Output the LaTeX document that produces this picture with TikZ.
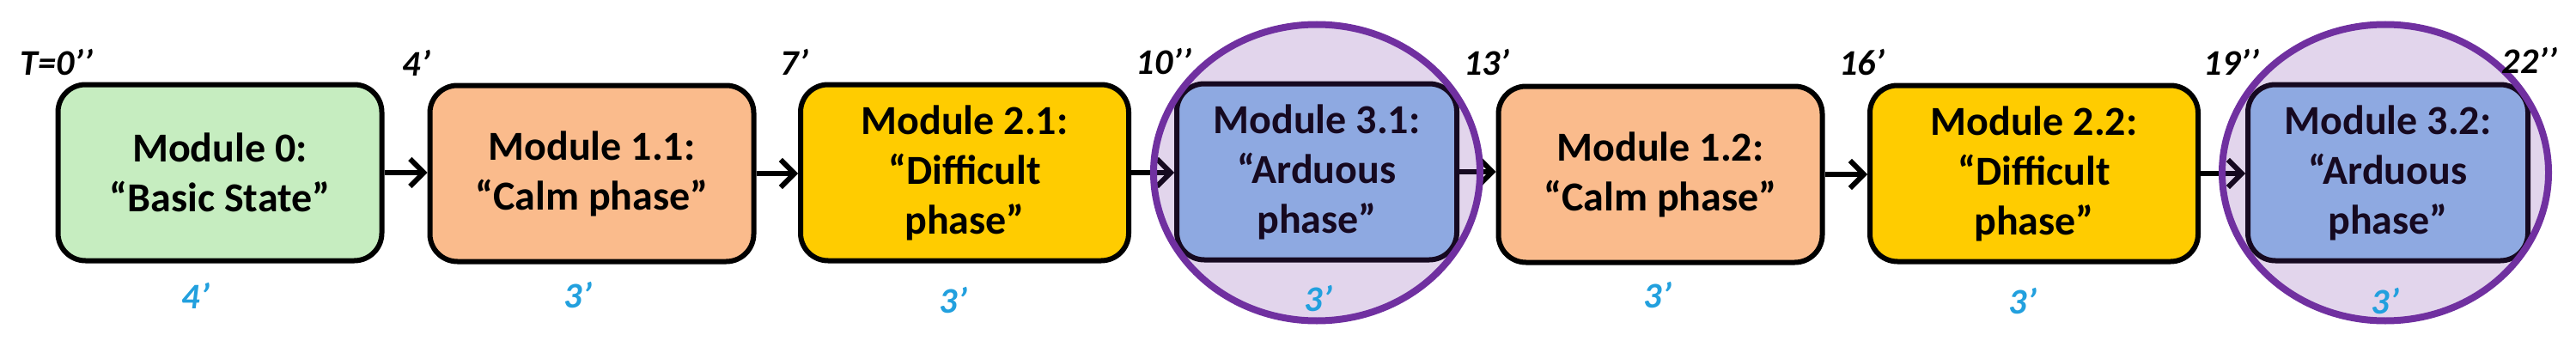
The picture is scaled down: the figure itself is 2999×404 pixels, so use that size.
\documentclass[tikz,border=0pt]{standalone}
\usepackage{fontspec}
\setmainfont{Carlito}
\usetikzlibrary{arrows.meta,shapes.geometric}
\definecolor{cgreen}{RGB}{198,237,192}
\definecolor{corange}{RGB}{250,187,140}
\definecolor{cyellow}{RGB}{255,204,0}
\definecolor{cblue}{RGB}{150,200,242}
\definecolor{cpurple}{RGB}{112,48,160}
\definecolor{cdur}{RGB}{34,160,222}
\tikzset{
  modbox/.style={draw=black, line width=6pt, rounded corners=32pt, align=center,
    minimum width=377pt, minimum height=205pt, inner sep=0pt,
    font=\fontsize{48}{58}\selectfont\bfseries},
  narrowbox/.style={modbox, minimum width=326pt},
  timelbl/.style={font=\fontsize{42}{42}\selectfont\bfseries\itshape, inner sep=0pt},
  durlbl/.style={font=\fontsize{42}{42}\selectfont\bfseries\itshape, text=cdur, inner sep=0pt},
  arr/.style={line width=6pt, -{Straight Barb[length=16pt,width=32pt,line width=6pt]}},
  ring/.style={ellipse, draw=cpurple, line width=8pt, fill=cpurple, fill opacity=0.2, draw opacity=1, inner sep=0pt}
}
\begin{document}
\begin{tikzpicture}[x=1pt,y=-1pt]
\useasboundingbox[fill=white] (0,0) rectangle (2999,404);
\node[modbox, fill=cgreen, minimum width=377pt] (m0) at (256,201) {Module 0:\\“Basic State”};
\node[modbox, fill=corange] (m11) at (689,202) {Module 1.1:\\“Calm phase”};
\node[modbox, fill=cyellow, minimum width=382pt] (m21) at (1123,201) {Module 2.1:\\“Difficult\\phase”};
\node[narrowbox, fill=cblue] (m31) at (1533,200) {Module 3.1:\\“Arduous\\phase”};
\node[modbox, fill=corange] (m12) at (1933,203) {Module 1.2:\\“Calm phase”};
\node[modbox, fill=cyellow, minimum width=382pt] (m22) at (2368,202) {Module 2.2:\\“Difficult\\phase”};
\node[narrowbox, fill=cblue] (m32) at (2780,201) {Module 3.2:\\“Arduous\\phase”};

\draw[arr] (m0.east) -- (m0.east -| m11.west);
\draw[arr] (m11.east) -- (m11.east -| m21.west);
\draw[arr] (m21.east) -- (m21.east -| m31.west);
\draw[arr] (m31.east) -- (m31.east -| m12.west);
\draw[arr] (m12.east) -- (m12.east -| m22.west);
\draw[arr] (m22.east) -- (m22.east -| m32.west);

\node[ring, minimum width=380pt, minimum height=345pt] (r1) at (1533,201) {};
\node[ring, minimum width=380pt, minimum height=345pt] (r2) at (2777,201) {};

\node[timelbl] (t0) at (66,73) {T=0’’};
\node[timelbl] (t1) at (485,73) {4’};
\node[timelbl] (t2) at (925,72) {7’};
\node[timelbl] (t3) at (1355,72) {10’’};
\node[timelbl] (t4) at (1731,73) {13’};
\node[timelbl] (t5) at (2168,73) {16’};
\node[timelbl] (t6) at (2598,72) {19’’};
\node[timelbl] (t7) at (2945,70) {22’’};

\node[durlbl] (d0) at (228,344) {4’};
\node[durlbl] (d1) at (673,344) {3’};
\node[durlbl] (d2) at (1110,350) {3’};
\node[durlbl] (d3) at (1535,348) {3’};
\node[durlbl] (d4) at (1930,344) {3’};
\node[durlbl] (d5) at (2355,351) {3’};
\node[durlbl] (d6) at (2777,351) {3’};
\end{tikzpicture}
\end{document}
